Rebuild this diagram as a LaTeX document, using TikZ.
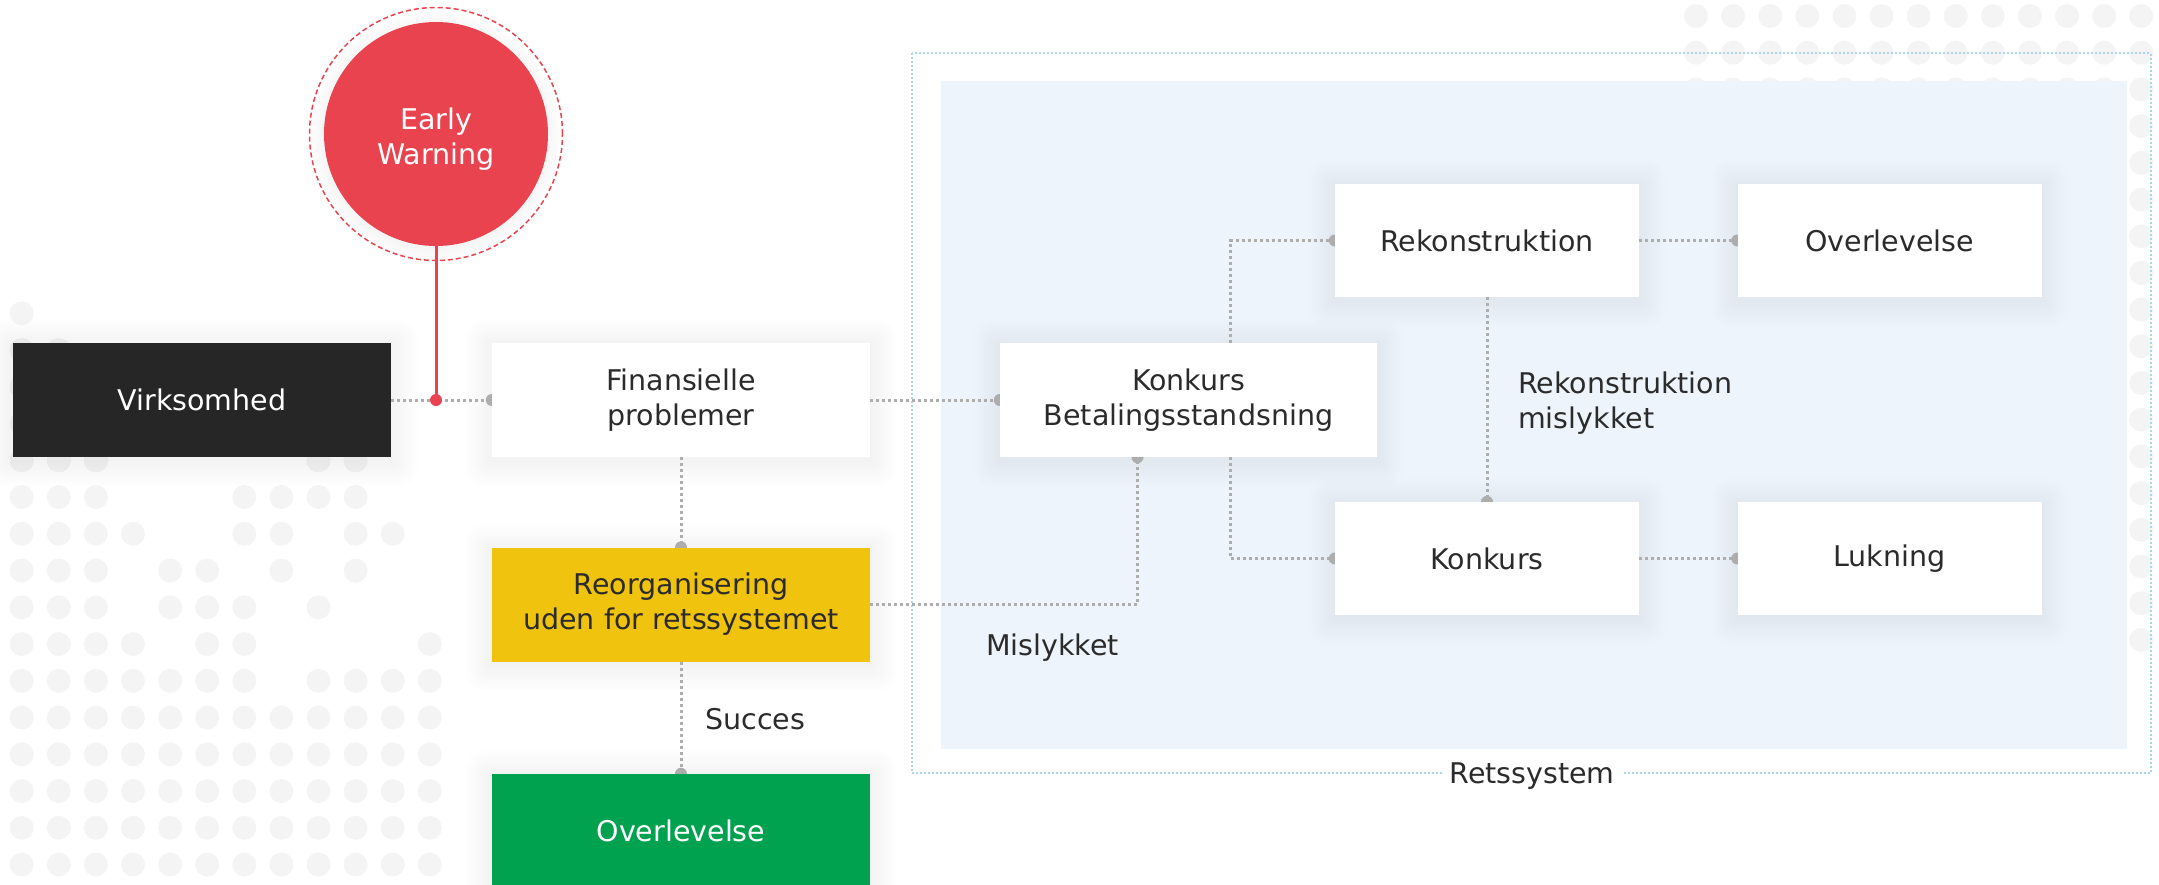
\documentclass[tikz,border=0pt]{standalone}
\usepackage{fontspec}
\setmainfont{DejaVu Sans}
\usetikzlibrary{calc}
\definecolor{ewred}{HTML}{E8434F}
\definecolor{boxblack}{HTML}{262626}
\definecolor{txt}{HTML}{2B2B2B}
\definecolor{yel}{HTML}{F0C30F}
\definecolor{grn}{HTML}{00A14F}
\definecolor{panelblue}{HTML}{EDF4FB}
\definecolor{bordblue}{HTML}{A9D5EE}
\definecolor{conncol}{HTML}{ADADAD}
\definecolor{dotc}{HTML}{F4F4F4}
\pgfdeclarelayer{bg}
\pgfdeclarelayer{shadowl}
\pgfdeclarelayer{conn}
\pgfsetlayers{bg,shadowl,conn,main}
\newcommand\myglow[1]{%
  \begin{pgfonlayer}{shadowl}
    \foreach \i in {1,...,12}{%
      \fill[black,opacity=0.005,rounded corners=\i*1.5pt]
        ($(#1.north west)+(-\i*2.2,-\i*2.2+3)$) rectangle ($(#1.south east)+(\i*2.2,\i*2.2+3)$);}
  \end{pgfonlayer}}
\begin{document}
\begin{tikzpicture}[x=1pt,y=-1pt,
  font=\fontsize{28.5}{35}\selectfont,
  bigbox/.style={rectangle,inner sep=0pt,align=center,minimum width=378pt,minimum height=114pt,fill=white,text=txt},
  smallbox/.style={rectangle,inner sep=0pt,align=center,minimum width=304pt,minimum height=113pt,fill=white,text=txt},
  lbl/.style={inner sep=0pt,text=txt,align=left},
  conn/.style={draw=conncol,line width=3pt,dash pattern=on 3pt off 3pt},
  redl/.style={draw=ewred,line width=3pt}]
\useasboundingbox (0,0) rectangle (2159,884);

% background dots
\begin{pgfonlayer}{bg}
  \foreach \r/\cols in {0/{0},1/{0,1},2/{0,1,2},3/{0,1,2},4/{0,1,2,8,9},5/{0,1,2,6,7,8,9},6/{0,1,2,3,6,7,9,10},7/{0,1,2,4,5,7,9},8/{0,1,2,4,5,6,8},9/{0,1,2,3,5,6,11},10/{0,1,2,3,4,5,6,8,9,10,11}}{%
    \foreach \c in \cols {\fill[dotc] ({21.7+37.1*\c},{313.3+36.75*\r}) circle[radius=12pt];}}
  \foreach \r in {11,...,15}{\foreach \c in {0,...,11}{\fill[dotc] ({21.7+37.1*\c},{313.3+36.75*\r}) circle[radius=12pt];}}
  \foreach \r in {0,1,2}{\foreach \c in {0,...,12}{\fill[dotc] ({1696+37.1*\c},{16+36.7*\r}) circle[radius=12pt];}}
  \foreach \r in {3,...,17}{\fill[dotc] (2141.2,{16+36.7*\r}) circle[radius=12pt];}
  % Retssystem panel
  \fill[panelblue] (940.5,81) rectangle (2127,749);
  \draw[bordblue,line width=2pt,dash pattern=on 2pt off 2pt] (911.6,53.3) rectangle (2151,772.7);
\end{pgfonlayer}

% nodes
\node[circle,fill=ewred,minimum size=224pt,inner sep=0pt] (ew) at (436,134) {};
\node[inner sep=0pt,text=white,align=center] (ewt) at (436,139) {Early\\Warning};
\node[bigbox,fill=boxblack,text=white] (virk) at (202,400) {Virksomhed};
\node[bigbox] (fin) at (681,400) {Finansielle\\problemer};
\node[bigbox,fill=yel] (reorg) at (681,604.5) {Reorganisering\\uden for retssystemet};
\node[bigbox,fill=grn,text=white,minimum height=113pt] (ov1) at (681,830.5) {Overlevelse};
\node[bigbox,minimum width=377pt] (kb) at (1188.5,400) {Konkurs\\Betalingsstandsning};
\node[smallbox] (rek) at (1487,240.5) {Rekonstruktion};
\node[smallbox] (ov2) at (1889.5,240.5) {Overlevelse};
\node[smallbox] (konk) at (1487,558.5) {Konkurs};
\node[smallbox] (luk) at (1889.5,558.5) {Lukning};

\node[lbl,anchor=west] (succ) at (705,719) {Succes};
\node[lbl,anchor=west] (misl) at (986,648) {Mislykket};
\node[lbl,anchor=west] (rekmis) at (1518,403) {Rekonstruktion\\mislykket};
\node[inner sep=0pt,fill=white,text=txt,minimum width=180pt,minimum height=30pt] (rets) at (1532,776) {Retssystem};

% soft shadows
\myglow{virk}\myglow{fin}\myglow{reorg}\myglow{ov1}\myglow{kb}
\myglow{rek}\myglow{ov2}\myglow{konk}\myglow{luk}
\begin{pgfonlayer}{shadowl}
  \foreach \i in {1,...,10}{\fill[black,opacity=0.005] ($(ew.center)+(0,2)$) circle[radius={112+\i*1.3}];}
\end{pgfonlayer}
\draw[ewred,line width=1.5pt,dash pattern=on 5pt off 3pt] (ew.center) circle[radius=126.5pt];

% connector helper coordinates
\coordinate (ewdot) at (ew.south |- virk.east);
\coordinate (kbin) at ($(kb.south)+(-51,0)$);
\coordinate (kbup) at ($(kb.north)+(41.5,0)$);
\coordinate (kbdn) at ($(kb.south)+(41.5,0)$);

\begin{pgfonlayer}{conn}
  \draw[conn] (virk.east) -- (fin.west);
  \draw[conn] (fin.east) -- (kb.west);
  \draw[conn] (fin.south) -- (reorg.north);
  \draw[conn] (reorg.south) -- (ov1.north);
  \draw[conn] (reorg.east) -| (kbin);
  \draw[conn] (kbup) |- (rek.west);
  \draw[conn] (kbdn) |- (konk.west);
  \draw[conn] (rek.east) -- (ov2.west);
  \draw[conn] (konk.east) -- (luk.west);
  \draw[conn] (rek.south) -- (konk.north);
  \foreach \p in {fin.west,kb.west,reorg.north,ov1.north,kbin,rek.west,konk.west,ov2.west,luk.west,konk.north}{\fill[conncol] (\p) circle[radius=6pt];}
  \draw[redl] (ew.south) -- (ewdot);
  \fill[ewred] (ewdot) circle[radius=6pt];
\end{pgfonlayer}
\end{tikzpicture}
\end{document}
